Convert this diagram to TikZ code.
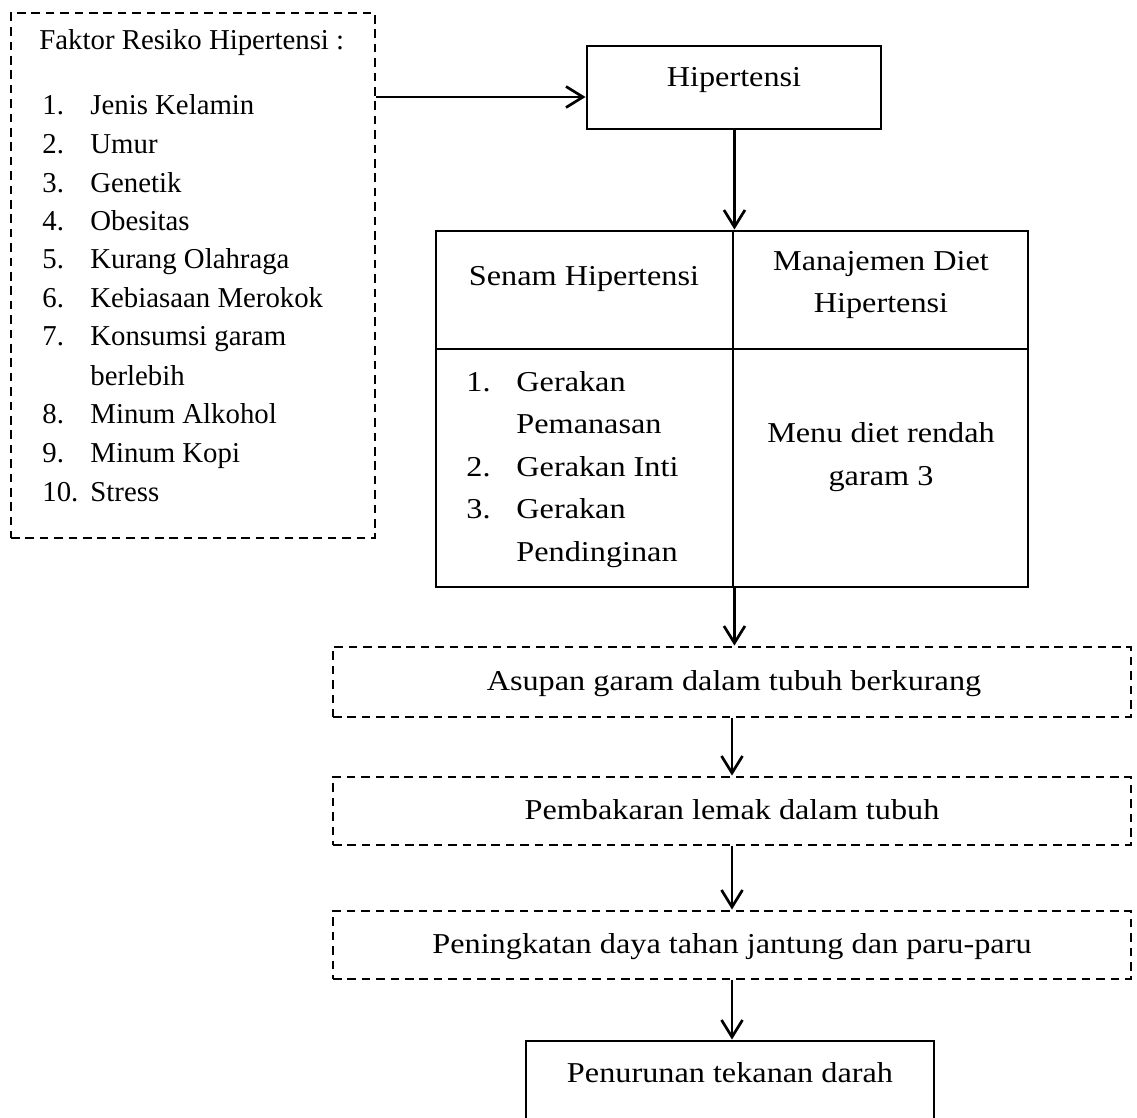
\documentclass[tikz,border=0pt]{standalone}
\usepackage{fontspec}
\setmainfont{Liberation Serif}
\newfontfamily\widefont[FakeStretch=1.12]{Liberation Serif}
\usetikzlibrary{fit,arrows.meta}
\begin{document}
\begin{tikzpicture}[x=0.5pt,y=-0.5pt,
  box/.style={draw, line width=1.45pt, inner sep=0pt},
  dbox/.style={box, dash pattern=on 4.3pt off 2.9pt},
  lbl/.style={inner sep=0pt, font=\fontsize{14.4}{17}\selectfont},
  wlbl/.style={inner sep=0pt, font=\fontsize{14.4}{17}\widefont},
  lw/.style={lbl, anchor=base west},
  ww/.style={wlbl, anchor=base west},
  lc/.style={wlbl, anchor=base},
  conn/.style={line width=1.35pt, -{Straight Barb[length=8.5pt,width=10.5pt,line width=1.35pt]}}]
\useasboundingbox (0,0) rectangle (1137,1118);
\clip (0,0) rectangle (1137,1118);
\fill[white] (0,0) rectangle (1137,1118);

% factor box
\node[dbox, fit={(11,13) (375,538)}] (fak) {};
\node[lw] (ft) at (39,50) {Faktor Resiko Hipertensi :};
\node[lw] (n1) at (42,115) {1.};  \node[lw] (t1) at (90,115) {Jenis Kelamin};
\node[lw] (n2) at (42,154) {2.};  \node[lw] (t2) at (90,154) {Umur};
\node[lw] (n3) at (42,193) {3.};  \node[lw] (t3) at (90,193) {Genetik};
\node[lw] (n4) at (42,231) {4.};  \node[lw] (t4) at (90,231) {Obesitas};
\node[lw] (n5) at (42,269) {5.};  \node[lw] (t5) at (90,269) {Kurang Olahraga};
\node[lw] (n6) at (42,308) {6.};  \node[lw] (t6) at (90,308) {Kebiasaan Merokok};
\node[lw] (n7) at (42,346) {7.};  \node[lw] (t7) at (90,346) {Konsumsi garam};
\node[lw] (t7b) at (90,386) {berlebih};
\node[lw] (n8) at (42,424) {8.};  \node[lw] (t8) at (90,424) {Minum Alkohol};
\node[lw] (n9) at (42,463) {9.};  \node[lw] (t9) at (90,463) {Minum Kopi};
\node[lw] (n10) at (42,502) {10.}; \node[lw] (t10) at (90,502) {Stress};

% Hipertensi
\node[box, fit={(587,46) (881,129)}] (hip) {};
\node[lc] (hipt) at (734,87) {Hipertensi};

% table
\node[box, fit={(436,231) (733,349)}] (senam) {};
\node[box, fit={(733,231) (1028,349)}] (mdh) {};
\node[box, fit={(436,349) (733,587)}] (gerak) {};
\node[box, fit={(733,349) (1028,587)}] (menu) {};
\node[lc] (senamt) at (584,286) {Senam Hipertensi};
\node[lc] (mdh1) at (881,271) {Manajemen Diet};
\node[lc] (mdh2) at (881,313) {Hipertensi};
\node[ww] (g1) at (466,392) {1.}; \node[ww] (g1t) at (516,392) {Gerakan};
\node[ww] (g1b) at (516,434) {Pemanasan};
\node[ww] (g2) at (466,477) {2.}; \node[ww] (g2t) at (516,477) {Gerakan Inti};
\node[ww] (g3) at (466,519) {3.}; \node[ww] (g3t) at (516,519) {Gerakan};
\node[ww] (g3b) at (516,562) {Pendinginan};
\node[lc] (m1) at (881,443) {Menu diet rendah};
\node[lc] (m2) at (881,486) {garam 3};

% flow boxes
\node[dbox, fit={(333,647) (1131,717)}] (asu) {};
\node[lc] (asut) at (734,690) {Asupan garam dalam tubuh berkurang};
\node[dbox, fit={(333,777) (1131,845)}] (pem) {};
\node[lc] (pemt) at (732,819) {Pembakaran lemak dalam tubuh};
\node[dbox, fit={(333,911) (1131,979)}] (pen) {};
\node[lc] (pent) at (732,953) {Peningkatan daya tahan jantung dan paru-paru};
\node[box, fit={(526,1041) (934,1140)}] (pnr) {};
\node[lc] (pnrt) at (730,1082) {Penurunan tekanan darah};

% connectors
\coordinate (a1) at (375,97);
\coordinate (a2) at (587,97);
\draw[conn] (fak.east |- a1) -- (hip.west |- a2);
\draw[conn] (hip.south -| senam.north east) -- (senam.north east);
\draw[conn] (gerak.south east) -- (gerak.south east |- asu.north);
\draw[conn] (asu.south) -- (pem.north);
\draw[conn] (pem.south) -- (pen.north);
\draw[conn] (pen.south) -- (pen.south |- pnr.north);
\end{tikzpicture}
\end{document}
